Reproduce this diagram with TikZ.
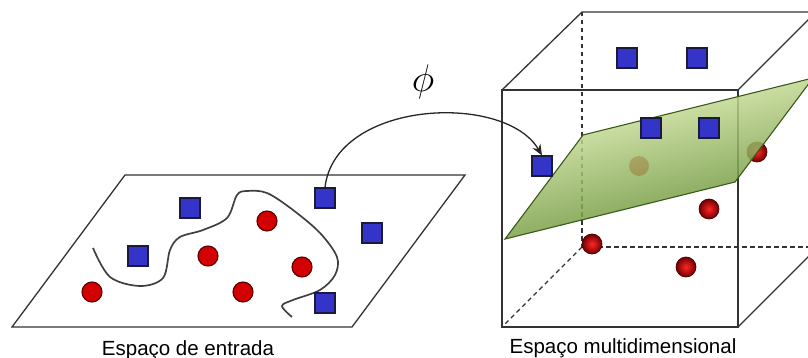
\documentclass[tikz,border=0pt]{standalone}
\usepackage{fontspec}
\setmainfont{Liberation Sans}
\usetikzlibrary{arrows.meta}
\definecolor{sqfill}{HTML}{3434C8}
\definecolor{sqdraw}{HTML}{1A1A3A}
\definecolor{cfill}{HTML}{D20000}
\definecolor{cdraw}{HTML}{5A0000}
\definecolor{edge}{HTML}{333333}
\definecolor{pltop}{HTML}{EEFAC0}
\definecolor{plmid}{HTML}{B4D86A}
\definecolor{plbot}{HTML}{4E7E1A}
\definecolor{pledge}{HTML}{3A5A1C}
\tikzset{
  sq/.style={draw=sqdraw, fill=sqfill, line width=1.1pt, minimum size=20pt, inner sep=0pt, shape=rectangle},
  dot/.style={draw=cdraw, fill=cfill, line width=1.1pt, circle, minimum size=20pt, inner sep=0pt},
  ball/.style={circle, minimum size=20pt, inner sep=0pt, draw=cdraw!80!black, line width=0.7pt,
     inner color=red!85!white, outer color=red!45!black},
  hidden/.style={circle, minimum size=20pt, inner sep=0pt, fill=cfill},
  edgeline/.style={draw=edge, line width=1.3pt},
  dashedline/.style={draw=edge, line width=1.3pt, dash pattern=on 4.5pt off 3.5pt},
  wiggle/.style={draw=black!75, line width=1.7pt},
  lbl/.style={font=\fontsize{20.5}{24}\selectfont, anchor=base, inner sep=0pt}
}
\begin{document}
\begin{tikzpicture}[x=1pt,y=-1pt]
\useasboundingbox (0,0) rectangle (808,358);
\clip (0,0) rectangle (808,358);
% ---------- input space ----------
\draw[edgeline] (125,175) -- (465,175) -- (352,327) -- (12,327) -- cycle;
\draw[wiggle] plot[smooth, tension=0.55] coordinates {(93,248) (110,277) (140,286) (163,278) (170,250) (180,237) (203,230) (227,218) (237,195) (247,191) (267,193) (293,210) (320,233) (337,257) (335,275) (320,290) (293,300) (282,306) (292,317)};
\node[sq] (a1) at (190,208) {};
\node[sq] (a2) at (138,256) {};
\node[sq] (a3) at (325,198) {};
\node[sq] (a4) at (372,233) {};
\node[sq] (a5) at (325,303) {};
\node[dot] (b1) at (92,292) {};
\node[dot] (b2) at (208,256) {};
\node[dot] (b3) at (267,221) {};
\node[dot] (b4) at (243,292) {};
\node[dot] (b5) at (302,267) {};
\node[lbl] (l1) at (188,355) {Espaço de entrada};
% ---------- feature space ----------
\draw[dashedline] (582,12) -- (582,247);
\draw[dashedline] (582,247) -- (502,327);
\draw[dashedline] (582,247) -- (818,247);
\node[hidden] (h1) at (639,166) {};
\node[ball] (h2) at (757,152) {};
\draw[edgeline] (502,90) rectangle (738,327);
\draw[edgeline] (502,90) -- (582,12) -- (818,12);
\draw[edgeline] (738,90) -- (816,12);
\draw[edgeline] (738,327) -- (816,249);
\shade[top color=pltop, middle color=plmid, bottom color=plbot, shading angle=14, fill opacity=0.85]
  (505,239) -- (583,135) -- (813,78) -- (735,182) -- cycle;
\draw[draw=pledge, line width=1.1pt] (505,239) -- (583,135) -- (813,78) -- (735,182) -- cycle;
\node[sq] (c1) at (627,58) {};
\node[sq] (c2) at (697,58) {};
\node[sq] (c3) at (651,128) {};
\node[sq] (c4) at (709,128) {};
\node[sq] (c5) at (542,166) {};
\node[ball] (d1) at (709,209) {};
\node[ball] (d2) at (592,244) {};
\node[ball] (d3) at (686,267) {};
\node[lbl] (l2) at (623,353) {Espaço multidimensional};
% ---------- mapping ----------
\draw[black!85, line width=1.3pt, -{Stealth[length=11pt,width=9pt]}]
  (a3.north) .. controls (335,100) and (505,92) .. (c5.north);
\node[inner sep=0pt, scale=1.55] (phi) at (423,82) {\fontsize{24.88}{28}\selectfont$\phi$};
\end{tikzpicture}
\end{document}
